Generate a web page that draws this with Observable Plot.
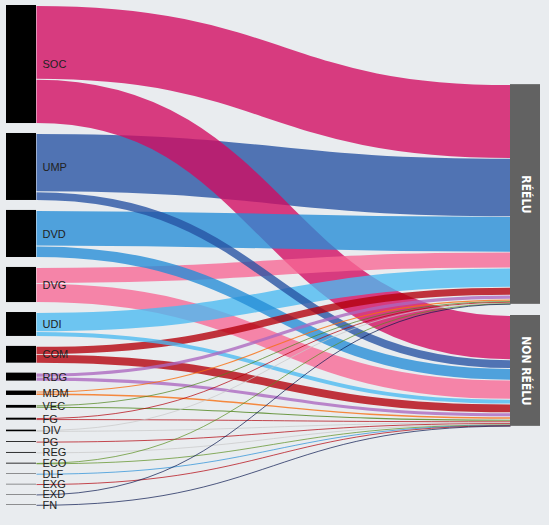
<!DOCTYPE html>
<html>
<head>
<meta charset="utf-8">
<script src="https://cdn.jsdelivr.net/npm/d3@7"></script>
<script src="https://cdn.jsdelivr.net/npm/@observablehq/plot@0.6"></script>
<style>
  html, body { margin: 0; padding: 0; background: #e9ecef; }
  #chart { width: 549px; height: 525px; }
</style>
</head>
<body>
<div id="chart"></div>
<script>
// ---- data ----
const parties  = ["SOC","UMP","DVD","DVG","UDI","COM","RDG","MDM","VEC","FG","DIV","PG","REG","ECO","DLF","EXG","EXD","FN"];
const reelu    = [185, 146, 89, 40, 48, 20, 10, 5, 2, 2, 2, 0, 0, 1, 0, 0, 1, 0];
const nonReelu = [111, 22, 29, 48, 12, 22, 10, 6, 5, 3, 2, 2, 2, 1, 1, 1, 0, 1];
const partyColors = ["#d10b61","#2653a3","#258dd7","#f76895","#4bbbf1","#b3000a","#ab68bf","#f76d0e","#4e841b","#b3000a","#c8c8c8","#b3000a","#c8c8c8","#5a8f20","#258dd7","#b3000a","#0a1850","#0a1850"];
const outcomes = ["RÉÉLU", "NON RÉÉLU"];

// ---- layout parameters ----
const W = 549, H = 525;
const yTop = 5, yBottom = 505;
const padUnits = 25;       // gap between left nodes (value units)
const padRightUnits = 28;  // gap between right nodes
const leftX = 6, rightX = 510, nodeW = 30;

// ---- sankey layout (in value units) ----
const totals = parties.map((p, i) => reelu[i] + nonReelu[i]);
const V = d3.sum(totals);
const yMax = V + padUnits * (parties.length - 1);

let acc = 0;
const leftNodes = parties.map((p, i) => {
  const n = {name: p, y0: acc, y1: acc + totals[i], color: partyColors[i]};
  acc += totals[i] + padUnits;
  return n;
});
const R = d3.sum(reelu), N = d3.sum(nonReelu);
const rightStart = yMax / 2 - (R + N + padRightUnits) / 2;
const rightNodes = [
  {name: outcomes[0], y0: rightStart, y1: rightStart + R},
  {name: outcomes[1], y0: rightStart + R + padRightUnits, y1: rightStart + R + padRightUnits + N}
];

const links = [];
const tOff = [rightNodes[0].y0, rightNodes[1].y0];
parties.forEach((p, i) => {
  let sOff = leftNodes[i].y0;
  [reelu[i], nonReelu[i]].forEach((v, t) => {
    if (v > 0) {
      links.push({source: p, target: outcomes[t], value: v,
        sy: sOff + v / 2, ty: tOff[t] + v / 2, color: partyColors[i]});
    }
    sOff += v;
    tOff[t] += v;
  });
});
// draw big flows first so smaller ones sit on top
const drawLinks = links.slice().sort((a, b) => b.value - a.value);

const k = (yBottom - yTop) / yMax; // pixels per value unit, from the y scale

const chart = Plot.plot({
  width: W, height: H,
  marginTop: 0, marginBottom: 0, marginLeft: 0, marginRight: 0,
  style: {background: "#e9ecef", overflow: "visible"},
  x: {domain: [0, W], range: [0, W], axis: null},
  y: {domain: [0, yMax], range: [yTop, yBottom], axis: null},
  color: {type: "identity"},
  marks: [
    Plot.link(drawLinks, {
      x1: leftX + nodeW, x2: rightX,
      y1: "sy", y2: "ty",
      stroke: "color",
      strokeWidth: d => Math.max(0.9, d.value * k - 0.9),
      strokeOpacity: 0.79,
      curve: "bump-x"
    }),
    Plot.rect(leftNodes, {x1: leftX, x2: leftX + nodeW, y1: "y0", y2: "y1", fill: "#000"}),
    Plot.rect(rightNodes, {x1: rightX, x2: rightX + nodeW, y1: "y0", y2: "y1", fill: "#626262"}),
    Plot.text(leftNodes, {
      x: leftX + nodeW + 6, y: d => (d.y0 + d.y1) / 2,
      text: "name", textAnchor: "start", fill: "#222",
      fontSize: 11, fontFamily: "Liberation Sans, Arial, sans-serif"
    }),
    Plot.text(rightNodes, {
      x: rightX + nodeW / 2, y: d => (d.y0 + d.y1) / 2,
      text: "name", rotate: 90, fill: "#fff",
      fontSize: 12, fontWeight: "bold",
      fontFamily: "Liberation Sans Narrow, DejaVu Sans Condensed, sans-serif"
    })
  ]
});
document.getElementById("chart").appendChild(chart);
</script>
</body>
</html>
